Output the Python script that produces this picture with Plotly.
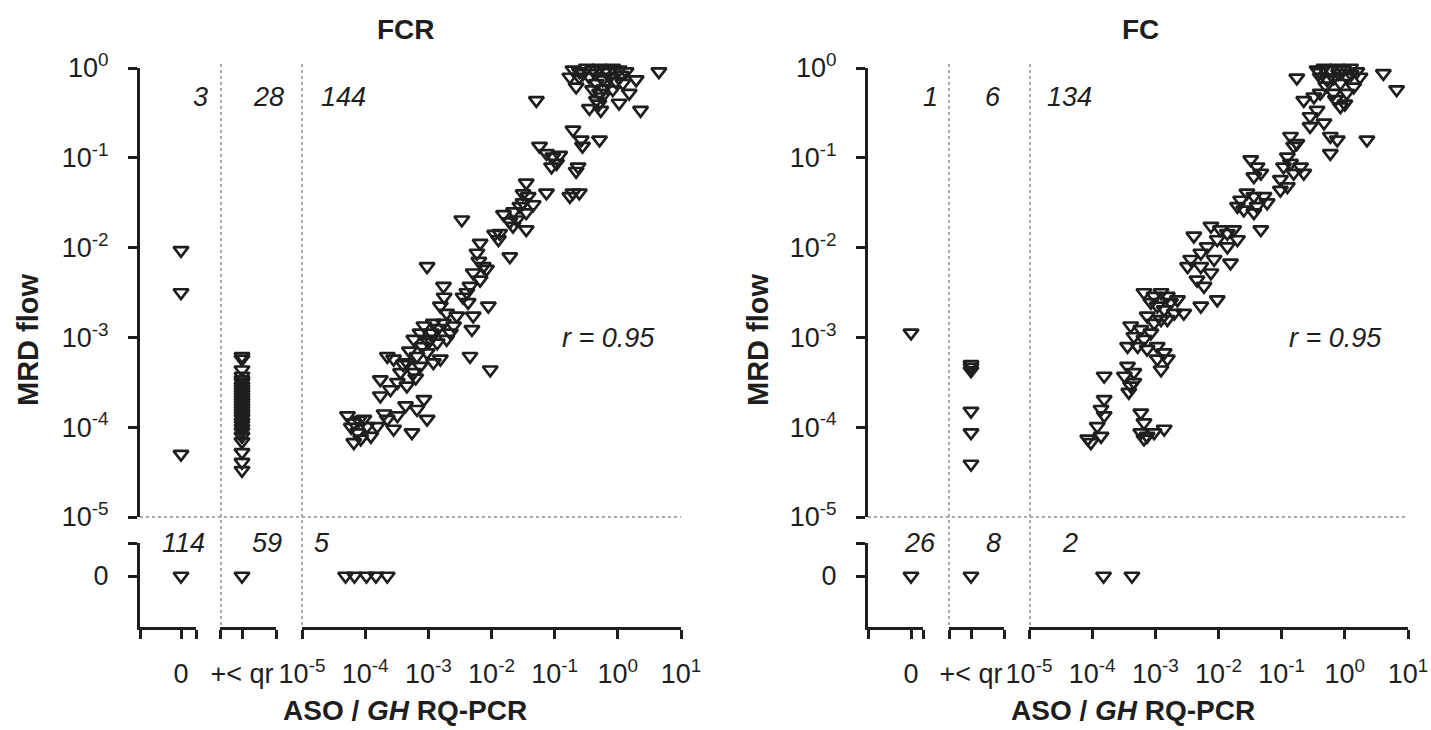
import numpy as np
import plotly.graph_objects as go

W, H = 1431, 730
INK = "#1e1e1e"
DOT = "#8f8f8f"
FONT = "Liberation Sans, Arial, Helvetica, sans-serif"

# ---- data (log10 values) ----
# FCR arm, both methods quantifiable: (log10 RQ-PCR, log10 flow MRD)
fcr_quant = [
    # top cluster around 10^0
    (-0.71, -0.02), (-0.61, -0.04), (-0.50, -0.00), (-0.40, -0.02), (-0.29, -0.00), (-0.19, -0.02),
    (-0.08, -0.00), (0.02, -0.02), (0.13, -0.04), (-0.61, -0.10), (-0.45, -0.10), (-0.34, -0.17),
    (-0.24, -0.13), (-0.13, -0.10), (-0.03, -0.15), (-0.40, -0.24), (-0.29, -0.28), (-0.34, -0.36),
    (-0.22, -0.23), (-0.08, -0.24), (0.08, -0.17), (0.18, -0.28), (0.29, -0.13), (0.65, -0.04),
    (0.36, -0.47), (0.02, -0.39), (-0.27, -0.47), (-0.45, -0.45), (-1.29, -0.36), (-0.76, -0.10),
    (-0.66, -0.21), (-0.55, -0.06), (-0.35, -0.06), (-0.15, -0.05), (0.05, -0.08), (-0.25, -0.32),
    (-0.30, -0.40),
    # around 10^-1
    (-0.71, -0.69), (-0.58, -0.80), (-0.56, -0.87), (-0.29, -0.80), (-1.24, -0.87), (-1.13, -0.95),
    (-1.03, -0.99), (-0.97, -1.06), (-1.05, -1.10), (-0.92, -0.97), (-0.63, -1.10), (-0.66, -1.15),
    (-0.71, -1.39), (-0.61, -1.39), (-1.13, -1.39), (-0.76, -1.43),
    # around 10^-1.5
    (-1.45, -1.28), (-1.42, -1.43), (-1.50, -1.50), (-1.55, -1.54), (-1.34, -1.52), (-1.45, -1.61),
    (-1.81, -1.63), (-1.71, -1.71), (-1.60, -1.69), (-1.66, -1.76), (-1.87, -1.84), (-1.89, -1.91),
    (-1.71, -2.10), (-1.45, -1.80), (-2.47, -1.69),
    # around 10^-2
    (-2.18, -1.95), (-2.23, -2.06), (-2.13, -2.21), (-2.08, -2.24), (-2.29, -2.28), (-2.18, -2.36),
    (-2.34, -2.43), (-2.39, -2.50), (-2.37, -2.61), (-2.29, -2.76), (-2.05, -2.65), (-2.31, -2.91),
    (-2.34, -3.21), (-2.02, -3.36), (-2.76, -2.43), (-3.02, -2.21),
    # 10^-3 to 10^-4
    (-2.81, -2.65), (-2.71, -2.73), (-2.92, -2.84), (-2.76, -2.84), (-2.60, -2.87), (-3.07, -2.87),
    (-3.13, -2.95), (-3.23, -3.02), (-2.97, -3.02), (-2.86, -3.06), (-2.65, -2.95), (-3.02, -3.17),
    (-3.18, -3.21), (-3.34, -3.28), (-3.13, -3.32), (-2.92, -3.28), (-2.81, -3.24), (-3.23, -3.39),
    (-3.44, -3.39), (-3.65, -3.21), (-3.55, -3.24), (-3.76, -3.47), (-3.60, -3.58), (-3.49, -3.50),
    (-3.34, -3.54), (-3.07, -3.69), (-3.18, -3.80), (-3.36, -3.76), (-3.49, -3.87), (-3.65, -3.91),
    (-3.55, -4.02), (-3.76, -3.65), (-4.28, -3.87), (-4.18, -3.95), (-4.02, -3.91), (-3.97, -3.99),
    (-4.12, -4.06), (-4.07, -4.13), (-4.18, -4.17), (-3.91, -4.10), (-3.81, -3.99), (-3.26, -4.06),
    (-3.02, -3.91), (-2.71, -3.02), (-2.55, -2.76),
    (-3.10, -3.10), (-2.95, -2.95), (-3.30, -3.15), (-3.40, -3.30), (-3.00, -3.05), (-2.85, -2.90),
    (-3.20, -3.45), (-4.10, -3.92), (-4.22, -4.00), (-3.70, -3.85), (-2.75, -2.55), (-2.45, -2.55),
    (-2.20, -2.15), (-1.95, -1.85), (-1.65, -1.60), (-1.50, -1.40),
]
fcr_pcr0_flow = [-2.03, -2.50, -4.30]            # RQ-PCR 0, flow positive
fcr_nq_flow = [-3.21, -3.24, -3.36, -3.43, -3.47, -3.50, -3.54, -3.57, -3.60, -3.63, -3.66, -3.69,
               -3.72, -3.75, -3.78, -3.81, -3.84, -3.87, -3.90, -3.94, -3.97, -4.01, -4.05, -4.10,
               -4.16, -4.28, -4.39, -4.48]       # RQ-PCR +< qr, flow positive
fcr_flow0_pcr = [-4.31, -4.17, -3.98, -3.83, -3.65]  # flow 0, RQ-PCR quantifiable
fcr_counts_top = ["3", "28", "144"]
fcr_counts_bottom = ["114", "59", "5"]

# FC arm
fc_quant = [
    # top cluster
    (-0.44, -0.02), (-0.33, -0.00), (-0.23, -0.02), (-0.12, -0.00), (-0.02, -0.02), (0.09, -0.00),
    (0.19, -0.04), (-0.39, -0.10), (-0.28, -0.13), (-0.18, -0.11), (-0.07, -0.17), (0.03, -0.10),
    (0.14, -0.21), (0.24, -0.10), (-0.18, -0.28), (-0.07, -0.43), (0.03, -0.28), (0.61, -0.06),
    (0.82, -0.24), (-0.76, -0.11), (-0.65, -0.36), (-0.49, -0.32), (-0.39, -0.28), (-0.55, -0.54),
    (-0.44, -0.47), (-0.33, -0.61), (-0.23, -0.76), (-0.12, -0.80), (-0.23, -0.95), (0.35, -0.80),
    (-0.55, -0.65), (-0.40, -0.05), (-0.10, -0.06), (0.10, -0.07), (-0.30, -0.20), (-0.15, -0.35),
    (0.00, -0.40),
    # around 10^-1
    (-0.86, -0.76), (-0.81, -0.87), (-0.91, -0.99), (-0.76, -0.84), (-0.97, -1.10), (-0.86, -1.06),
    (-0.70, -1.10), (-0.65, -1.17), (-0.81, -1.17), (-0.91, -1.32), (-1.02, -1.24), (-1.02, -1.36),
    # around 10^-1.5
    (-1.49, -1.02), (-1.39, -1.10), (-1.44, -1.21), (-1.33, -1.17), (-1.28, -1.43), (-1.44, -1.43),
    (-1.55, -1.39), (-1.65, -1.47), (-1.70, -1.54), (-1.60, -1.58), (-1.44, -1.61), (-1.39, -1.54),
    (-1.33, -1.80), (-1.23, -1.50),
    # around 10^-2
    (-2.12, -1.76), (-1.97, -1.80), (-1.86, -1.84), (-1.76, -1.80), (-1.70, -1.91), (-1.86, -1.99),
    (-2.02, -1.91), (-2.18, -1.99), (-2.28, -2.06), (-2.39, -1.87), (-2.44, -2.13), (-2.49, -2.21),
    (-2.28, -2.21), (-2.07, -2.13), (-2.12, -2.28), (-2.23, -2.43), (-1.81, -2.17), (-2.02, -2.58),
    (-2.28, -2.65), (-2.34, -2.36),
    # around 10^-3
    (-3.18, -2.50), (-3.02, -2.54), (-2.91, -2.50), (-2.81, -2.54), (-2.76, -2.61), (-2.65, -2.58),
    (-2.70, -2.73), (-2.86, -2.69), (-2.97, -2.65), (-3.07, -2.61), (-3.13, -2.76), (-3.02, -2.84),
    (-2.91, -2.80), (-2.81, -2.80), (-2.55, -2.73), (-3.23, -2.91), (-3.34, -2.99), (-3.18, -3.02),
    (-3.07, -2.95), (-2.97, -3.10), (-2.86, -3.17), (-2.81, -3.24), (-2.97, -3.24), (-2.91, -3.36),
    (-3.13, -3.13), (-3.28, -3.10), (-3.44, -3.10), (-3.39, -2.87), (-3.44, -3.32), (-3.34, -3.39),
    (-3.49, -3.43), (-3.39, -3.54), (-3.42, -3.61), (-3.34, -3.50),
    # around 10^-4
    (-3.81, -3.43), (-3.81, -3.69), (-3.86, -3.80), (-3.92, -3.99), (-3.86, -4.10), (-4.07, -4.13),
    (-4.02, -4.17), (-3.81, -3.87), (-3.23, -3.84), (-3.18, -3.95), (-3.23, -4.06), (-3.13, -4.10),
    (-3.02, -4.06), (-2.86, -4.02), (-3.18, -4.13),
]
fc_pcr0_flow = [-2.95]
fc_nq_flow = [-3.30, -3.33, -3.37, -3.82, -4.06, -4.41]
fc_flow0_pcr = [-3.82, -3.37]
fc_counts_top = ["1", "6", "134"]
fc_counts_bottom = ["26", "8", "2"]

r_label = "r = 0.95"
y_exps = [0, -1, -2, -3, -4, -5]
x_exps = [-5, -4, -3, -2, -1, 0, 1]

# ---- layout geometry in pixels ----
Y_TOP, Y_BREAK, Y_LOW_TOP, Y_ZERO, Y_BOTTOM = 68, 517, 543, 576, 627

panels = [
    dict(name="FCR", quant=fcr_quant, pcr0=fcr_pcr0_flow, nq=fcr_nq_flow, flow0=fcr_flow0_pcr,
         top=fcr_counts_top, bottom=fcr_counts_bottom,
         seg_a=(140, 181, 196), seg_b=(220, 242, 276), seg_c=(302, 681), dots=(221, 302),
         title_x=406, ylab_x=28, xlab_x=405, r_x=608,
         top_x=(200, 268, 343), bottom_x=(183, 267, 322)),
    dict(name="FC", quant=fc_quant, pcr0=fc_pcr0_flow, nq=fc_nq_flow, flow0=fc_flow0_pcr,
         top=fc_counts_top, bottom=fc_counts_bottom,
         seg_a=(868, 911, 923), seg_b=(949, 971, 1004), seg_c=(1029, 1408), dots=(949, 1030),
         title_x=1140, ylab_x=758, xlab_x=1133, r_x=1335,
         top_x=(930, 993, 1069), bottom_x=(920, 993, 1070)),
]


def fx(px):
    return px / W


def fy(py):
    return 1 - py / H


def ref(letter, n):
    return letter if n == 1 else f"{letter}{n}"


def key(letter, n):
    return f"{letter}axis" if n == 1 else f"{letter}axis{n}"


def sup_labels(exps):
    return [f"10<sup>{e}</sup>" for e in exps]


def caps(vals):
    # unlabeled end ticks of each broken axis segment
    return dict(tickvals=vals, ticks="outside", ticklen=9, tickwidth=3, tickcolor=INK, showgrid=False)


axis_common = dict(showline=True, linewidth=3, linecolor=INK, ticks="outside", ticklen=9,
                   tickwidth=3, tickcolor=INK, showgrid=False, zeroline=False,
                   tickfont=dict(family=FONT, size=27, color=INK), automargin=False)
marker = dict(symbol="triangle-down-open", size=13, color=INK, line=dict(width=2.7, color=INK))

fig = go.Figure()
layout = {}
shapes = []
annotations = []

for i, p in enumerate(panels):
    nxa, nxb, nxc = 3 * i + 1, 3 * i + 2, 3 * i + 3
    nyu, nyl = 2 * i + 1, 2 * i + 2
    xa, xb, xc = ref("x", nxa), ref("x", nxb), ref("x", nxc)
    yu, yl = ref("y", nyu), ref("y", nyl)

    a0, at, a1 = p["seg_a"]
    b0, bt, b1 = p["seg_b"]
    c0, c1 = p["seg_c"]
    ra = [-(at - a0) / 10, (a1 - at) / 10]
    rb = [-(bt - b0) / 10, (b1 - bt) / 10]
    rl = [-(Y_BOTTOM - Y_ZERO) / 10, (Y_ZERO - Y_LOW_TOP) / 10]

    layout[key("x", nxa)] = dict(axis_common, domain=[fx(a0), fx(a1)], range=ra, anchor=yl,
                                 tickvals=[0], ticktext=["0"], minor=caps(ra),
                                 ticklabelstandoff=12)
    layout[key("x", nxb)] = dict(axis_common, domain=[fx(b0), fx(b1)], range=rb, anchor=yl,
                                 tickvals=[0], ticktext=["+&lt; qr"], minor=caps(rb),
                                 ticklabelstandoff=12)
    layout[key("x", nxc)] = dict(axis_common, domain=[fx(c0), fx(c1)], type="log", range=[-5, 1],
                                 anchor=yl, tickvals=[10.0 ** e for e in x_exps],
                                 ticktext=sup_labels(x_exps), ticklabelstandoff=12)
    layout[key("y", nyu)] = dict(axis_common, domain=[fy(Y_BREAK), fy(Y_TOP)], type="log",
                                 range=[-5, 0], anchor=xa, tickvals=[10.0 ** e for e in y_exps],
                                 ticktext=sup_labels(y_exps), ticklabelstandoff=14)
    layout[key("y", nyl)] = dict(axis_common, domain=[fy(Y_BOTTOM), fy(Y_LOW_TOP)], range=rl,
                                 anchor=xa, tickvals=[0], ticktext=["0"], minor=caps([rl[1]]),
                                 ticklabelstandoff=14)

    qx = 10.0 ** np.array([q[0] for q in p["quant"]])
    qy = 10.0 ** np.array([q[1] for q in p["quant"]])
    groups = [
        (qx, qy, xc, yu),
        ([0] * len(p["pcr0"]), 10.0 ** np.array(p["pcr0"]), xa, yu),
        ([0] * len(p["nq"]), 10.0 ** np.array(p["nq"]), xb, yu),
        ([0], [0], xa, yl),
        ([0], [0], xb, yl),
        (10.0 ** np.array(p["flow0"]), [0] * len(p["flow0"]), xc, yl),
    ]
    for gx, gy, ax, ay in groups:
        fig.add_trace(go.Scatter(x=gx, y=gy, xaxis=ax, yaxis=ay, mode="markers", marker=marker,
                                 cliponaxis=False, showlegend=False, hoverinfo="x+y"))

    # dotted separators
    for dx in p["dots"]:
        shapes.append(dict(type="line", xref="paper", yref="paper", x0=fx(dx), x1=fx(dx),
                           y0=fy(64), y1=fy(Y_BOTTOM), layer="below",
                           line=dict(color=DOT, width=1.5, dash="dot")))
    shapes.append(dict(type="line", xref="paper", yref="paper", x0=fx(a0), x1=fx(c1),
                       y0=fy(Y_BREAK), y1=fy(Y_BREAK), layer="below",
                       line=dict(color=DOT, width=1.5, dash="dot")))

    def txt(x, y, s, size=27, italic=False, bold=False, angle=0):
        if italic:
            s = f"<i>{s}</i>"
        if bold:
            s = f"<b>{s}</b>"
        annotations.append(dict(x=fx(x), y=fy(y), xref="paper", yref="paper", text=s,
                                showarrow=False, xanchor="center", yanchor="middle",
                                textangle=angle, font=dict(family=FONT, size=size, color=INK)))

    txt(p["title_x"], 30, p["name"], size=28, bold=True)
    for cx, s in zip(p["top_x"], p["top"]):
        txt(cx, 97, s, italic=True)
    for cx, s in zip(p["bottom_x"], p["bottom"]):
        txt(cx, 543, s, italic=True)
    txt(p["r_x"], 338, r_label, italic=True)
    txt(p["ylab_x"], 340, "MRD flow", size=29, bold=True, angle=-90)
    txt(p["xlab_x"], 710, "ASO / <i>GH</i> RQ-PCR", size=28, bold=True)

fig.update_layout(width=W, height=H, margin=dict(l=0, r=0, t=0, b=0),
                  paper_bgcolor="white", plot_bgcolor="white",
                  shapes=shapes, annotations=annotations, **layout)

# the page's default 8px body margin would shift the figure off the 1431x730 window
fig.write_html("out.html", config={"displayModeBar": False},
               post_script="document.body.style.margin='0px';")
